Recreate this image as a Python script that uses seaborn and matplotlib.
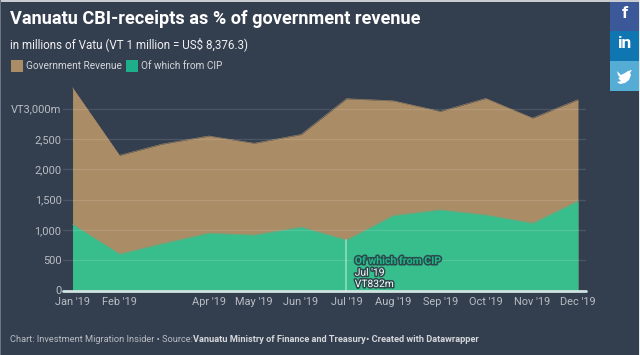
import seaborn as sns
import matplotlib.pyplot as plt
import matplotlib.patheffects as pe
from matplotlib.patches import Rectangle, Polygon
import pandas as pd
import numpy as np

months = ["2019-01-01", "2019-02-01", "2019-03-01", "2019-04-01", "2019-05-01", "2019-06-01",
          "2019-07-01", "2019-08-01", "2019-09-01", "2019-10-01", "2019-11-01", "2019-12-01"]
revenue = [3345, 2230, 2415, 2550, 2430, 2575, 3165, 3130, 2955, 3170, 2845, 3150]
cip = [1090, 600, 770, 945, 915, 1045, 832, 1235, 1330, 1245, 1110, 1475]
tick_months = ["2019-01-01", "2019-02-01", "2019-04-01", "2019-05-01", "2019-06-01", "2019-07-01",
               "2019-08-01", "2019-09-01", "2019-10-01", "2019-11-01", "2019-12-01"]
tick_labels = ["Jan '19", "Feb '19", "Apr '19", "May '19", "Jun '19", "Jul '19",
               "Aug '19", "Sep '19", "Oct '19", "Nov '19", "Dec '19"]
y_ticks = [0, 500, 1000, 1500, 2000, 2500, 3000]
y_labels = ["0", "500", "1,000", "1,500", "2,000", "2,500", "VT3,000m"]

BG = "#333e4f"
TAN = "#aa8c66"
GREEN = "#38bd8d"
TEXT = "#f1f1f1"
MUTED = "#b9bdc3"

sns.set_theme(style="dark")
plt.rcParams["font.family"] = ["Roboto", "DejaVu Sans"]

df = pd.DataFrame({"month": pd.to_datetime(months), "revenue": revenue, "cip": cip})

W, H = 640, 355
fig = plt.figure(figsize=(W / 100, H / 100), dpi=100, facecolor=BG)

# axes box in pixels: x 63-586, y 75-290.5
ax = fig.add_axes([63 / W, (H - 290.5) / H, (586 - 63) / W, (290.5 - 75) / H])
ax.set_facecolor(BG)

ax.fill_between(df["month"], df["revenue"], color=TAN, lw=0, zorder=1)
ax.fill_between(df["month"], df["cip"], color=GREEN, lw=0, zorder=2)
sns.lineplot(data=df, x="month", y="revenue", ax=ax, color=TAN, linewidth=0.4, zorder=1.5)
sns.lineplot(data=df, x="month", y="cip", ax=ax, color=GREEN, linewidth=0.4, zorder=2.5)

start = pd.Timestamp("2019-01-01")
ax.set_xlim(start - pd.Timedelta(days=6.3), start + pd.Timedelta(days=339.3))
ax.set_ylim(0, 215.5 / 60.6 * 1000)

for v in y_ticks[1:]:
    ax.axhline(v, color="white", alpha=0.12, lw=0.9, zorder=5)
ax.axhline(0, color="#cfe3e0", lw=2.0, zorder=6, clip_on=False)

# highlighted point
jul = pd.Timestamp("2019-07-01")
ax.plot([jul, jul], [0, cip[6]], color="white", alpha=0.45, lw=1.2, zorder=6)
stroke = [pe.withStroke(linewidth=2.2, foreground="#2d4a4d")]
tx = jul + pd.Timedelta(days=5.5)
ax.text(tx, 487, "Of which from CIP", color="#1fb98a", fontsize=7.6, fontweight="bold", va="center",
        path_effects=stroke, zorder=8)
ax.text(tx, 294, "Jul '19", color="white", fontsize=7.4, va="center", path_effects=stroke, zorder=8)
ax.text(tx, 107, "VT832m", color="white", fontsize=7.4, va="center", path_effects=stroke, zorder=8)

ax.set_xticks(pd.to_datetime(tick_months))
ax.set_xticklabels(tick_labels)
ax.set_yticks(y_ticks)
ax.set_yticklabels(y_labels)
ax.tick_params(axis="x", length=0, pad=4.5, labelsize=7.9, labelcolor=MUTED)
ax.tick_params(axis="y", length=0, pad=1, labelsize=7.9, labelcolor=MUTED)
ax.set_xlabel("")
ax.set_ylabel("")
for s in ax.spines.values():
    s.set_visible(False)


def px(x, y):
    return x / W, 1 - y / H


fig.text(*px(10.5, 18.5), "Vanuatu CBI-receipts as % of government revenue", color="white", fontsize=13.1,
         fontweight="bold", va="center")
fig.text(*px(10.5, 44), "in millions of Vatu (VT 1 million = US$ 8,376.3)", color=TEXT, fontsize=8.4, va="center")
fig.text(*px(25.5, 66), "Government Revenue", color="#d5d7da", fontsize=7.2, va="center")
fig.text(*px(141, 66), "Of which from CIP", color="#d5d7da", fontsize=7.2, va="center")
fig.text(*px(10.5, 339), "Chart: Investment Migration Insider \u2022 Source:", color=MUTED, fontsize=6.65, va="center")
fig.text(*px(193, 339), "Vanuatu Ministry of Finance and Treasury", color="#d5d7da", fontsize=6.65,
         fontweight="bold", va="center")
fig.text(*px(366, 339), "\u2022 Created with Datawrapper", color="#d5d7da", fontsize=6.65, fontweight="bold", va="center")


def box(x, y, w, h, color):
    fig.add_artist(Rectangle((x / W, 1 - (y + h) / H), w / W, h / H, transform=fig.transFigure, color=color, lw=0))


box(11, 60, 12, 12, TAN)
box(126, 60, 12, 12, "#1fae8a")

# page edges and share buttons
box(0, 0, 640, 1.5, "#c9cdd2")
box(638.5, 0, 1.5, 355, "#e6e8ea")
box(0, 0, 1, 355, "#6b7480")
box(610, 1.5, 28.5, 29, "#3b5998")
box(610, 30.5, 28.5, 30, "#0f76b1")
box(610, 60.5, 28.5, 30, "#55acd5")
fig.text(*px(624.5, 14), "f", color="white", fontsize=12.5, fontweight="bold", ha="center", va="center")
fig.text(*px(624.5, 43.5), "in", color="white", fontsize=12.5, fontweight="bold", ha="center", va="center")
bird = np.array([[617, 71], [621, 75], [625, 73], [628, 71], [632, 70], [630, 73], [631, 75], [629, 80],
                 [625, 83], [620, 84], [617, 82], [621, 81], [618, 78], [620, 77.5], [618, 75]])
fig.add_artist(Polygon(np.column_stack([bird[:, 0] / W, 1 - bird[:, 1] / H]), closed=True,
                       transform=fig.transFigure, color="white", lw=0))

fig.savefig("out.png", dpi=100, facecolor=BG)
